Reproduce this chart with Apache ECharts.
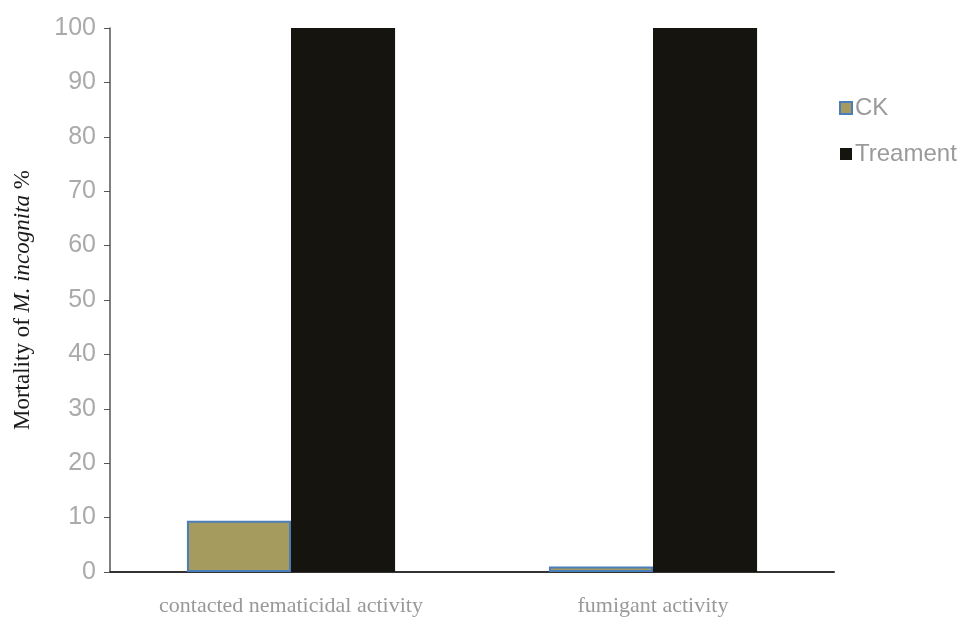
<!DOCTYPE html>
<html>
<head>
<meta charset="utf-8">
<script src="https://cdn.jsdelivr.net/npm/echarts@6/dist/echarts.min.js"></script>
<style>
  html, body { margin: 0; padding: 0; background: #fff; }
  #chart { width: 964px; height: 617px; }
</style>
</head>
<body>
<div id="chart"></div>
<script>
// Mortality bar chart, CK vs treatment
var categories = ['contacted nematicidal activity', 'fumigant activity'];
var ckValues = [9.4, 1.0];
var treatmentValues = [100, 100];
var yTicks = { min: 0, max: 100, interval: 10 };

var chart = echarts.init(document.getElementById('chart'), null, { renderer: 'canvas' });

var _sans = 'Liberation Sans, Arial, sans-serif';
var _serif = 'Liberation Serif, Times New Roman, serif';

chart.setOption({
  backgroundColor: '#fff',
  animation: false,
  grid: { left: 110, right: 130, top: 28, bottom: 45, outerBoundsMode: 'none', containLabel: false },
  legend: {
    orient: 'vertical',
    left: 834,
    top: 91,
    icon: 'rect',
    itemWidth: 12,
    itemHeight: 12,
    itemGap: 22,
    textStyle: { color: '#9a9a9a', fontSize: 24, fontFamily: _sans, padding: [0, 0, 0, -2] },
    data: ['CK', 'Treament']
  },
  xAxis: {
    type: 'category',
    data: categories,
    axisLine: { lineStyle: { color: '#333', width: 2 } },
    axisTick: { show: false },
    axisLabel: { color: '#999', fontSize: 22, fontFamily: _serif, margin: 23 }
  },
  yAxis: {
    type: 'value',
    min: yTicks.min,
    max: yTicks.max,
    interval: yTicks.interval,
    name: '{a|Mortality of }{b|M. incognita}{a| %}',
    nameLocation: 'middle',
    nameRotate: 90,
    nameGap: 76,
    nameTextStyle: {
      rich: {
        a: { color: '#1a1a1a', fontSize: 23, fontFamily: _serif },
        b: { color: '#1a1a1a', fontSize: 23, fontStyle: 'italic', fontFamily: _serif }
      }
    },
    axisLine: { show: true, lineStyle: { color: '#555', width: 1.5 } },
    axisTick: { show: true, inside: false, length: 6, lineStyle: { color: '#555' } },
    axisLabel: { color: '#aaa', fontSize: 25, fontFamily: _sans, margin: 14 },
    splitLine: { show: false }
  },
  series: [
    {
      name: 'CK',
      type: 'bar',
      data: ckValues,
      barGap: '0%',
      barCategoryGap: '42.5%',
      itemStyle: { color: '#a59b5f', borderColor: '#4a7ebb', borderWidth: 2 }
    },
    {
      name: 'Treament',
      type: 'bar',
      data: treatmentValues,
      itemStyle: { color: '#15140f' }
    }
  ]
});
</script>
</body>
</html>
